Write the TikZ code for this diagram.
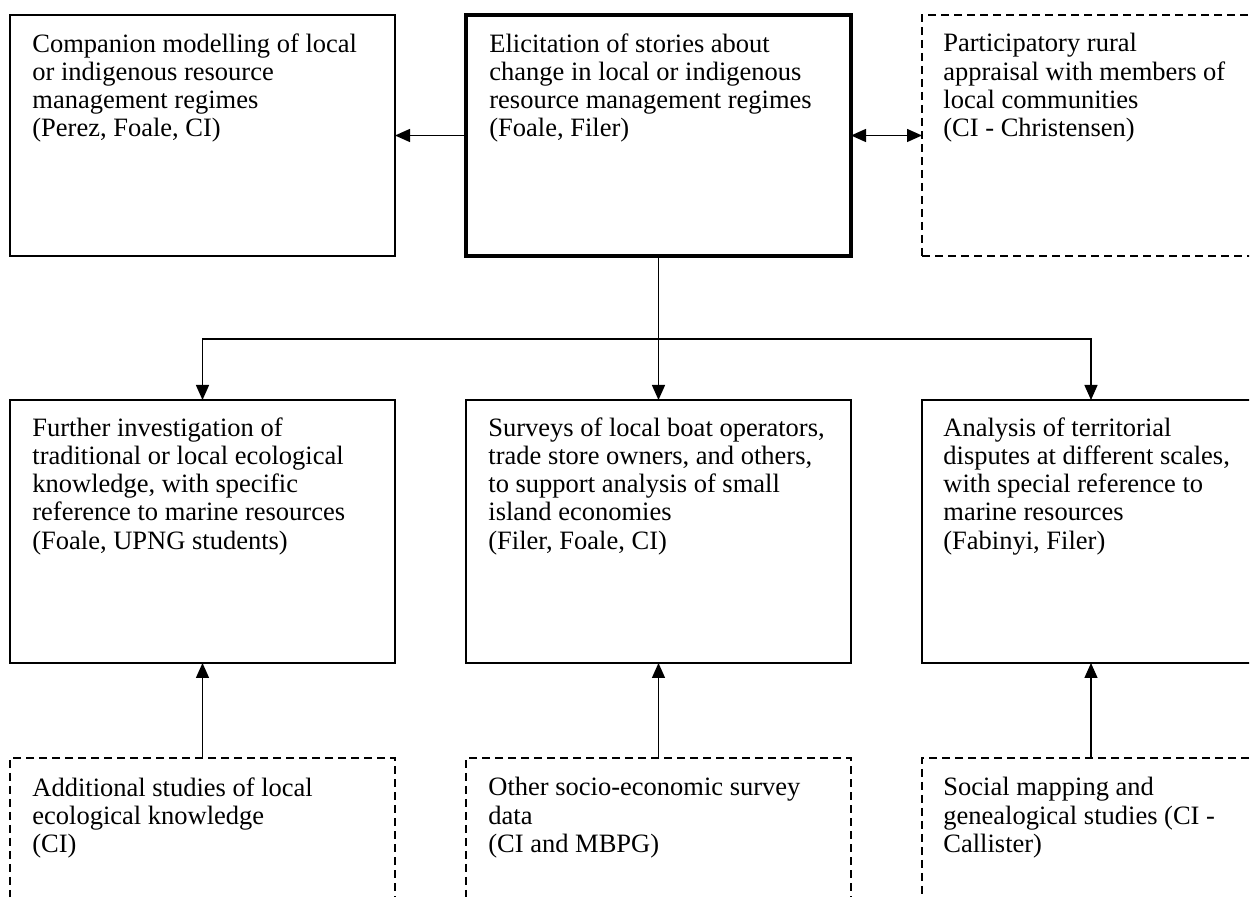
\documentclass[tikz,border=0pt]{standalone}
\usepackage{fontspec}
\setmainfont{Liberation Serif}
\usetikzlibrary{arrows.meta}
\begin{document}
\begin{tikzpicture}[x=0.5pt,y=-0.5pt,
  box/.style={draw, line width=0.75pt, rectangle, anchor=north west, inner sep=0pt, outer sep=0pt},
  mainbox/.style={box, line width=2pt},
  dbox/.style={box, dash pattern=on 4pt off 2.5pt},
  txt/.style={anchor=north west, inner sep=0pt, align=left, font=\fontsize{13.25pt}{14.15pt}\selectfont},
  tip/.tip={Triangle[length=7.5pt,width=6.5pt]},
  arr/.style={-tip, line width=0.7pt},
  darr/.style={tip-tip, line width=0.7pt},
]
\useasboundingbox (0,0) rectangle (1250,897);
\clip (0,0) rectangle (1249,897);
% top row
\node[box, minimum width=192.5pt, minimum height=120.5pt] (tl) at (10,15) {};
\node[mainbox, minimum width=192.5pt, minimum height=120.5pt] (tc) at (466,15) {};
\node[dbox, minimum width=200pt, minimum height=120.5pt] (tr) at (922,15) {};
% middle row
\node[box, minimum width=192.5pt, minimum height=131.5pt] (ml) at (10,400) {};
\node[box, minimum width=192.5pt, minimum height=131.5pt] (mc) at (466,400) {};
\node[box, minimum width=200pt, minimum height=131.5pt] (mr) at (922,400) {};
% bottom row
\node[dbox, minimum width=192.5pt, minimum height=82pt] (bl) at (10,758) {};
\node[dbox, minimum width=192.5pt, minimum height=82pt] (bc) at (466,758) {};
\node[dbox, minimum width=200pt, minimum height=82pt] (br) at (922,758) {};
% texts
\node[txt] (tlT) at ([shift={(22,18)}]tl.north west) {Companion modelling of local\\or indigenous resource\\management regimes\\(Perez, Foale, CI)};
\node[txt] (tcT) at ([shift={(23,18)}]tc.north west) {Elicitation of stories about\\change in local or indigenous\\resource management regimes\\(Foale, Filer)};
\node[txt] (trT) at ([shift={(21,18)}]tr.north west) {Participatory rural\\appraisal with members of\\local communities\\(CI - Christensen)};
\node[txt] (mlT) at ([shift={(22,17)}]ml.north west) {Further investigation of\\traditional or local ecological\\knowledge, with specific\\reference to marine resources\\(Foale, UPNG students)};
\node[txt] (mcT) at ([shift={(22,17)}]mc.north west) {Surveys of local boat operators,\\trade store owners, and others,\\to support analysis of small\\island economies\\(Filer, Foale, CI)};
\node[txt] (mrT) at ([shift={(21,17)}]mr.north west) {Analysis of territorial\\disputes at different scales,\\with special reference to\\marine resources\\(Fabinyi, Filer)};
\node[txt] (blT) at ([shift={(22,19)}]bl.north west) {Additional studies of local\\ecological knowledge\\(CI)};
\node[txt] (bcT) at ([shift={(22,19)}]bc.north west) {Other socio-economic survey\\data\\(CI and MBPG)};
\node[txt] (brT) at ([shift={(21,19)}]br.north west) {Social mapping and\\genealogical studies (CI -\\Callister)};
% connectors
\draw[arr] (tc.west) -- (tl.east);
\draw[darr] (tc.east) -- (tr.west);
\coordinate (split) at (658.5,339);
\draw[arr] (tc.south) -- (mc.north);
\draw[arr] (split) -| (ml.north);
\draw[arr] (split) -| ([xshift=84.5pt]mr.north west);
\draw[arr] (bl.north) -- (ml.south);
\draw[arr] (bc.north) -- (mc.south);
\draw[arr] ([xshift=84.5pt]br.north west) -- ([xshift=84.5pt]mr.south west);
\end{tikzpicture}
\end{document}
